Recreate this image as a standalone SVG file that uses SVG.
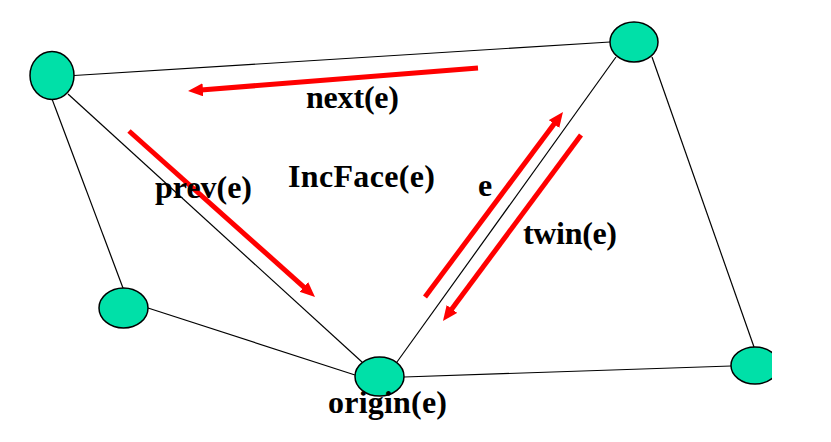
<svg xmlns="http://www.w3.org/2000/svg" width="831" height="442" viewBox="0 0 831 442">
  <style>
    .vertex { fill: #00E0A8; stroke: #000; stroke-width: 1.5; }
    .edge { stroke: #000; stroke-width: 1.2; fill: none; }
    .half { stroke: #FF0000; stroke-width: 5; fill: none; marker-end: url(#head); }
    .lbl { font-family: "Liberation Serif", "Times New Roman", serif; font-weight: bold; font-size: 32px; fill: #000; }
  </style>
  <defs>
    <marker id="head" markerUnits="userSpaceOnUse" markerWidth="16" markerHeight="14" refX="2" refY="6.5" orient="auto">
      <path d="M0,0 L15,6.5 L0,13 z" fill="#FF0000"/>
    </marker>
    <clipPath id="clipRight">
      <rect x="0" y="0" width="772" height="442"/>
    </clipPath>
  </defs>
  <rect width="831" height="442" fill="#FFFFFF"/>

  <g id="edges">
    <line class="edge" x1="74" y1="75.5" x2="610" y2="42"/>
    <line class="edge" x1="68" y1="94" x2="362" y2="362"/>
    <line class="edge" x1="52" y1="99" x2="123" y2="288"/>
    <line class="edge" x1="148" y1="308" x2="355" y2="375"/>
    <line class="edge" x1="397" y1="362" x2="616" y2="57"/>
    <line class="edge" x1="404" y1="377" x2="731" y2="366"/>
    <line class="edge" x1="652" y1="57" x2="754" y2="347"/>
  </g>

  <g id="half-edges">
    <line class="half" x1="478" y1="68" x2="201" y2="90"/>
    <line class="half" x1="129" y1="131" x2="305.3" y2="288.3"/>
    <line class="half" x1="425" y1="297" x2="555.2" y2="122.4"/>
    <line class="half" x1="581" y1="135" x2="450.7" y2="310.6"/>
  </g>

  <g id="node-a"><ellipse class="vertex" cx="52" cy="75.5" rx="22" ry="24"/></g>
  <g id="node-b"><ellipse class="vertex" cx="634" cy="42" rx="24" ry="20"/></g>
  <g id="node-c"><ellipse class="vertex" cx="123.5" cy="308" rx="24.5" ry="20"/></g>
  <g id="node-origin"><ellipse class="vertex" cx="379.5" cy="376.5" rx="24.5" ry="19.5"/></g>
  <g id="node-e" clip-path="url(#clipRight)"><ellipse class="vertex" cx="755" cy="365.5" rx="24" ry="18.5"/></g>

  <g id="labels">
    <text class="lbl" x="306" y="108" textLength="93">next(e)</text>
    <text class="lbl" x="288" y="187" textLength="147">IncFace(e)</text>
    <text class="lbl" x="155" y="198" textLength="97">prev(e)</text>
    <text class="lbl" x="478" y="196">e</text>
    <text class="lbl" x="523" y="244" textLength="94">twin(e)</text>
    <text class="lbl" x="328" y="413" textLength="119">origin(e)</text>
  </g>
</svg>
